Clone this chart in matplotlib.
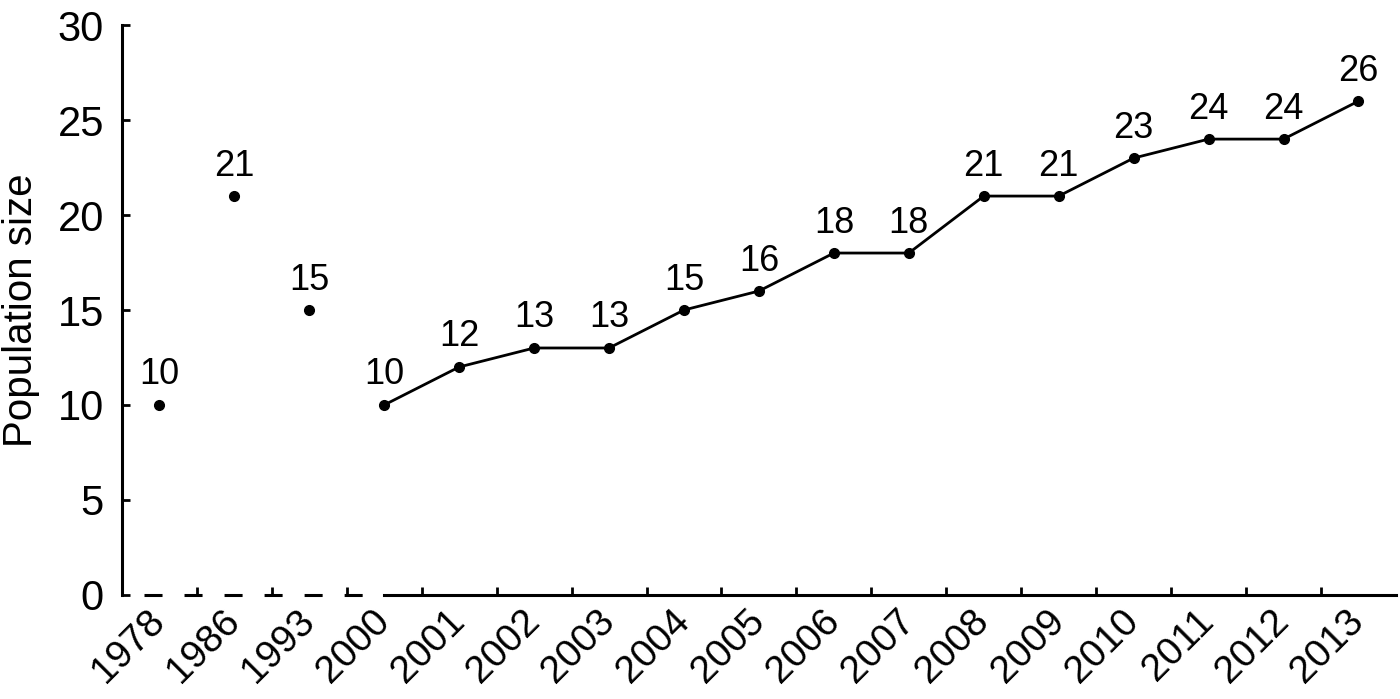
import numpy as np
import matplotlib as mpl
import matplotlib.pyplot as plt

mpl.rc('font', family=['Liberation Sans', 'DejaVu Sans'], size=26)

years = ['1978', '1986', '1993', '2000', '2001', '2002', '2003', '2004', '2005',
         '2006', '2007', '2008', '2009', '2010', '2011', '2012', '2013']
counts = [10, 21, 15, 10, 12, 13, 13, 15, 16, 18, 18, 21, 21, 23, 24, 24, 26]
n_early = 3  # isolated surveys before the yearly series

x = np.arange(len(years))

fig = plt.figure(figsize=(14.0, 6.99), dpi=100)
ax = fig.add_axes([0.0871, 0.149, 0.9100, 0.815])

# early counts as single points, yearly counts joined
ax.plot(x[:n_early], counts[:n_early], 'ko', ms=7, ls='none')
ax.plot(x[n_early:], counts[n_early:], 'k-', lw=2.0, marker='o', ms=7)

for xi, c in zip(x, counts):
    ax.annotate(str(c), (xi, c), xytext=(0, 9), textcoords='offset points',
                ha='center', va='bottom', fontsize=26)

ax.set_xlim(-0.5, len(years) - 0.5)
ax.set_ylim(0, 30)
ax.set_yticks(np.arange(0, 31, 5))
ax.set_ylabel('Population size', fontsize=29)
ax.yaxis.set_label_coords(-0.064, 0.5)

ax.set_xticks(x)
ax.set_xticklabels(years, rotation=45, ha='right', va='center',
                   rotation_mode='anchor')
ax.set_xticks(x[:-1] + 0.5, minor=True)
ax.tick_params(axis='x', which='major', length=0, pad=15, labelsize=28)
ax.tick_params(axis='x', which='minor', direction='in', length=6, width=2)
ax.tick_params(axis='y', direction='in', length=6, width=2, pad=13, labelsize=30)

for s in ['top', 'right']:
    ax.spines[s].set_visible(False)
ax.spines['left'].set_linewidth(2.2)
ax.spines['bottom'].set_linewidth(2.2)
# broken time axis: dashed before 2000
ax.spines['bottom'].set_bounds(n_early, len(years) - 0.5)
ax.plot([-0.5, n_early], [0, 0], color='k', lw=2.2, ls=(5.9, (5.9, 7.2)),
        clip_on=False, solid_capstyle='butt')

plt.savefig('out.png', dpi=100)
